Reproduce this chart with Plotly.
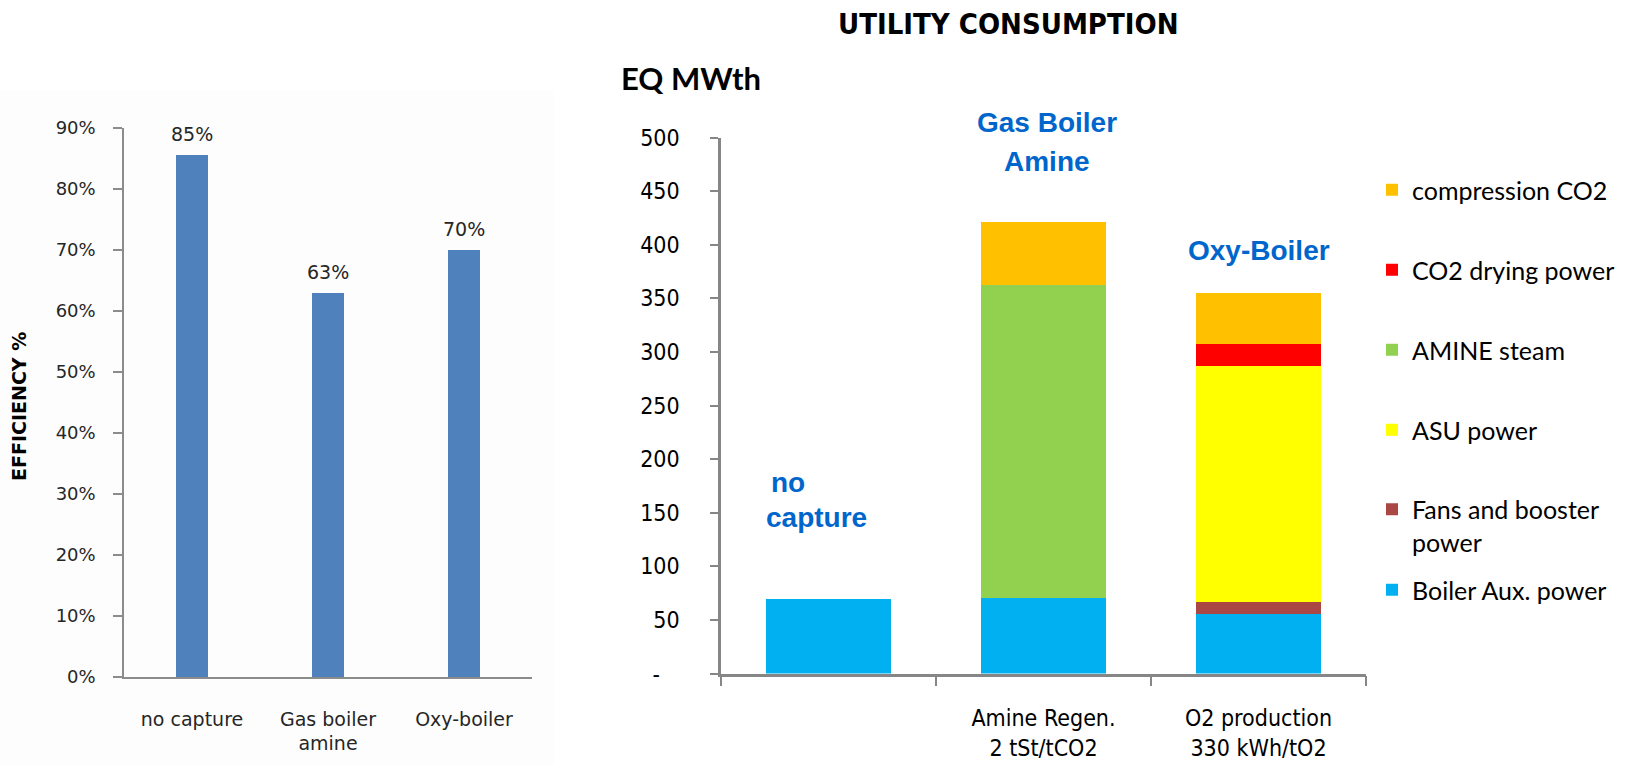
import plotly.graph_objects as go

# ---------------- data ----------------
eff_categories = ["no capture", "Gas boiler amine", "Oxy-boiler"]
eff_tick_labels = ["no capture", "Gas boiler<br>amine", "Oxy-boiler"]
efficiency = [0.855, 0.63, 0.70]
efficiency_labels = ["85%", "63%", "70%"]

utility_cases = ["no capture", "Gas Boiler Amine", "Oxy-Boiler"]
utility_tick_labels = ["", "Amine Regen.<br>2 tSt/tCO2", "O2 production<br>330 kWh/tO2"]
boiler_aux = [69.5, 70.5, 55.5]
fans_booster = [0, 0, 11]
asu_power = [0, 0, 220]
amine_steam = [0, 292, 0]
co2_drying = [0, 0, 21]
compression_co2 = [0, 58.5, 47]

util_ticks = [0, 50, 100, 150, 200, 250, 300, 350, 400, 450, 500]
util_ticktext = ["-\u00a0\u00a0\u00a0", "50", "100", "150", "200", "250", "300", "350", "400", "450", "500"]

W, H = 1629, 765
def px(x):
    return x / W
def py(y):
    return 1 - y / H

NARROW = "Liberation Sans Narrow, Arial Narrow, DejaVu Sans Condensed, sans-serif"
LEFTF = "DejaVu Sans, Verdana, sans-serif"

fig = go.Figure()

# ---------------- left chart ----------------
fig.add_trace(go.Bar(
    x=eff_categories, y=efficiency,
    marker=dict(color="#4F81BD", line=dict(width=0)),
    width=32 / 136,
    xaxis="x", yaxis="y", showlegend=False,
))

# ---------------- right chart ----------------
series = [
    ("Boiler Aux. power", boiler_aux, "#00B0F0", "legend6"),
    ("Fans and booster<br>power", fans_booster, "#AA4643", "legend5"),
    ("ASU power", asu_power, "#FFFF00", "legend4"),
    ("AMINE steam", amine_steam, "#92D050", "legend3"),
    ("CO2 drying power", co2_drying, "#FF0000", "legend2"),
    ("compression CO2", compression_co2, "#FFC000", "legend"),
]
for name, vals, col, leg in series:
    fig.add_trace(go.Bar(
        x=utility_cases, y=vals, name=name,
        marker=dict(color=col, line=dict(width=0)),
        xaxis="x2", yaxis="y2", legend=leg,
    ))

leg_y = {"legend": 190, "legend2": 270, "legend3": 350, "legend4": 430,
         "legend5": 525.5, "legend6": 590}
legends = {}
for k, yy in leg_y.items():
    legends[k] = dict(
        x=px(1372), xanchor="left", y=py(yy), yanchor="middle",
        font=dict(family="Lato, Carlito, Calibri, sans-serif", size=25, color="#000000"),
        bgcolor="rgba(0,0,0,0)", borderwidth=0, valign="top",
        itemclick=False, itemdoubleclick=False,
    )

axis_gray_l = "#8C8C8C"
axis_gray_r = "#868686"

fig.update_layout(
    width=W, height=H,
    margin=dict(l=0, r=0, t=0, b=0, autoexpand=False),
    paper_bgcolor="white", plot_bgcolor="rgba(0,0,0,0)",
    barmode="stack",
    xaxis=dict(
        domain=[px(124), px(532)], anchor="y", automargin=False,
        categoryorder="array", categoryarray=eff_categories,
        tickvals=eff_categories, ticktext=eff_tick_labels,
        showline=True, linecolor=axis_gray_l, linewidth=1.5,
        ticks="", showgrid=False, zeroline=False,
        tickfont=dict(family=LEFTF, size=19, color="#262626"),
        ticklabelstandoff=24,
    ),
    yaxis=dict(
        domain=[py(677), py(128)], anchor="x", automargin=False,
        range=[0, 0.9], dtick=0.1, tickformat=".0%",
        showline=True, linecolor=axis_gray_l, linewidth=1.5,
        ticks="outside", ticklen=9, tickcolor=axis_gray_l, tickwidth=1.5,
        showgrid=False, zeroline=False,
        tickfont=dict(family=LEFTF, size=18, color="#262626"),
        ticklabelstandoff=14,
    ),
    xaxis2=dict(
        domain=[px(721), px(1366)], anchor="y2", automargin=False,
        categoryorder="array", categoryarray=utility_cases,
        tickvals=utility_cases, ticktext=utility_tick_labels,
        showline=True, linecolor=axis_gray_r, linewidth=2.5,
        ticks="outside", tickson="boundaries", ticklen=10,
        tickcolor=axis_gray_r, tickwidth=2,
        showgrid=False, zeroline=False,
        tickfont=dict(family=NARROW, size=23, color="#000000"),
        ticklabelstandoff=22,
    ),
    yaxis2=dict(
        domain=[py(673.5), py(137.5)], anchor="x2", automargin=False,
        range=[0, 500], tickvals=util_ticks, ticktext=util_ticktext,
        showline=True, linecolor=axis_gray_r, linewidth=2.5,
        ticks="outside", ticklen=8, tickcolor=axis_gray_r, tickwidth=2,
        showgrid=False, zeroline=False,
        tickfont=dict(family=NARROW, size=23, color="#000000"),
        ticklabelstandoff=26,
    ),
    bargap=0.42,
    **legends,
)

ann = []
# data labels of the efficiency chart, anchored to the bar values
for cat, val, lab in zip(eff_categories, efficiency, efficiency_labels):
    ann.append(dict(text=lab, x=cat, y=val, xref="x", yref="y", yshift=21,
                    showarrow=False, xanchor="center", yanchor="middle",
                    font=dict(family=LEFTF, size=19, color="#262626")))

txt = []
txt.append(dict(text="<b>UTILITY CONSUMPTION</b>", x=px(1008), y=py(24),
                font=dict(family=NARROW, size=29, color="#000000")))
txt.append(dict(text="<b>EQ MWth</b>", x=px(691), y=py(78),
                font=dict(family="Lato, Carlito, sans-serif", size=31, color="#000000")))
txt.append(dict(text="<b>EFFICIENCY %</b>", x=px(19), y=py(407), textangle=-90,
                font=dict(family=LEFTF, size=19, color="#000000")))
blue = "#0066CC"
bf = dict(family="Liberation Sans, Arial, sans-serif", size=28, color=blue)
txt.append(dict(text="<b>Gas Boiler</b>", x=px(1047), y=py(123), font=bf))
txt.append(dict(text="<b>Amine</b>", x=px(1047), y=py(161), font=bf))
txt.append(dict(text="<b>Oxy-Boiler</b>", x=px(1259), y=py(251), font=bf))
txt.append(dict(text="<b>no</b>", x=px(788), y=py(482), font=bf))
txt.append(dict(text="<b>capture</b>", x=px(816), y=py(517), font=bf))
for a in txt:
    a.update(xref="paper", yref="paper", showarrow=False, xanchor="center", yanchor="middle")
fig.update_layout(annotations=ann + txt)

fig.add_shape(type="rect", xref="paper", yref="paper", x0=0, x1=px(554), y0=0, y1=py(90),
              fillcolor="#FDFDFD", line=dict(width=0), layer="below")

fig.write_html(
    "out.html",
    config={"displayModeBar": False},
    post_script="document.body.style.margin='0';document.body.style.overflow='hidden';",
)
